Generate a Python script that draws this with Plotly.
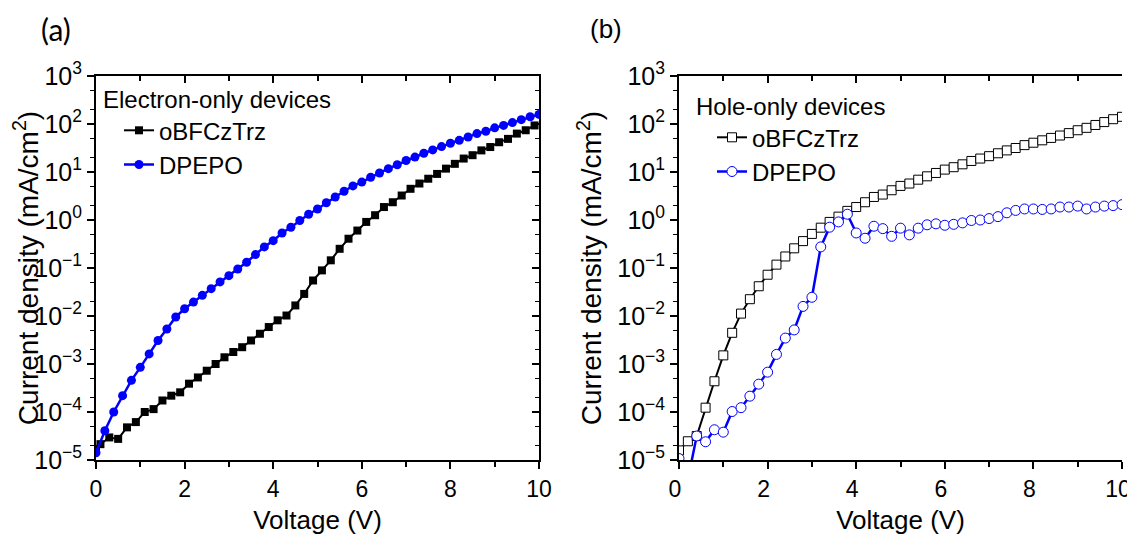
import plotly.graph_objects as go

# ---------------- data (log10 of current density, mA/cm^2) ----------------
a_obf_v = [0.0] + [round(0.1 + 0.2 * i, 1) for i in range(50)]
a_obf_log = [-4.77, -4.67, -4.53, -4.56, -4.32, -4.21, -4.00, -3.94, -3.76, -3.66, -3.59,
             -3.41, -3.28, -3.14, -3.00, -2.86, -2.75, -2.65, -2.51, -2.37, -2.23,
             -2.09, -1.99, -1.78, -1.54, -1.26, -1.05, -0.84, -0.60, -0.39, -0.22,
             -0.04, 0.10, 0.27, 0.37, 0.51, 0.65, 0.76, 0.86, 0.96, 1.07,
             1.17, 1.28, 1.35, 1.45, 1.52, 1.62, 1.69, 1.80, 1.87, 1.97]

a_dpepo_v = [round(0.2 * i, 1) for i in range(51)]
a_dpepo_log = [-4.85, -4.39, -4.00, -3.66, -3.34, -3.07, -2.79, -2.51, -2.27, -2.02, -1.85,
               -1.71, -1.57, -1.43, -1.29, -1.16, -1.02, -0.88, -0.72, -0.56, -0.43,
               -0.27, -0.15, -0.01, 0.12, 0.23, 0.36, 0.48, 0.60, 0.71, 0.79,
               0.89, 0.98, 1.07, 1.15, 1.24, 1.31, 1.39, 1.46, 1.53, 1.60,
               1.66, 1.73, 1.80, 1.85, 1.92, 1.97, 2.03, 2.09, 2.15, 2.20]

b_obf_v = [round(0.2 * i, 1) for i in range(51)]
b_obf_log = [-4.80, -4.61, -4.50, -3.91, -3.36, -2.82, -2.35, -1.95, -1.65, -1.38, -1.14,
             -0.93, -0.76, -0.59, -0.44, -0.29, -0.16, -0.04, 0.07, 0.19, 0.27,
             0.37, 0.48, 0.53, 0.62, 0.71, 0.76, 0.84, 0.91, 0.98, 1.05,
             1.10, 1.16, 1.23, 1.28, 1.33, 1.39, 1.45, 1.50, 1.56, 1.61,
             1.66, 1.71, 1.76, 1.81, 1.87, 1.92, 1.98, 2.04, 2.10, 2.15]

b_dpepo_v = [round(0.2 * i, 1) for i in range(51)]
b_dpepo_log = [-4.97, -5.41, -4.50, -4.62, -4.37, -4.42, -3.99, -3.91, -3.67, -3.42, -3.17,
               -2.80, -2.46, -2.29, -1.80, -1.61, -0.56, -0.15, -0.04, 0.12, -0.27,
               -0.38, -0.13, -0.18, -0.34, -0.17, -0.31, -0.17, -0.10, -0.08, -0.11,
               -0.09, -0.06, -0.01, 0.00, 0.03, 0.07, 0.15, 0.20, 0.23, 0.23,
               0.22, 0.23, 0.27, 0.27, 0.29, 0.23, 0.27, 0.29, 0.30, 0.32]

series_names = ["oBFCzTrz", "DPEPO"]
legend_titles = ["Electron-only devices", "Hole-only devices"]
panel_labels = ["(a)", "(b)"]
x_ticks = [0, 2, 4, 6, 8, 10]
y_exponents = [-5, -4, -3, -2, -1, 0, 1, 2, 3]
y_ticktext = ["10<sup>%s</sup>" % (str(e).replace("-", "\u2212") if e < 0 else str(e)) for e in y_exponents]
x_title = "Voltage (V)"
y_title = "Current density (mA/cm<sup>2</sup>)"

# ---------------- figure ----------------
FONT = "Liberation Sans, Arial, sans-serif"
BLUE = "#0000FF"
fig = go.Figure()

def tolin(vals):
    return [10 ** v for v in vals]

# panel (a)
fig.add_trace(go.Scatter(x=a_obf_v, y=tolin(a_obf_log), name=series_names[0], mode="lines+markers",
                         line=dict(color="black", width=2),
                         marker=dict(symbol="square", size=8, color="black"),
                         xaxis="x", yaxis="y", legend="legend"))
fig.add_trace(go.Scatter(x=a_dpepo_v, y=tolin(a_dpepo_log), name=series_names[1], mode="lines+markers",
                         line=dict(color=BLUE, width=2.5),
                         marker=dict(symbol="circle", size=9, color=BLUE),
                         xaxis="x", yaxis="y", legend="legend"))
# panel (b)
fig.add_trace(go.Scatter(x=b_obf_v, y=tolin(b_obf_log), name=series_names[0], mode="lines+markers",
                         line=dict(color="black", width=2),
                         marker=dict(symbol="square", size=9, color="white", line=dict(color="black", width=1)),
                         xaxis="x2", yaxis="y2", legend="legend2"))
fig.add_trace(go.Scatter(x=b_dpepo_v, y=tolin(b_dpepo_log), name=series_names[1], mode="lines+markers",
                         line=dict(color=BLUE, width=2.5),
                         marker=dict(symbol="circle", size=10, color="white", line=dict(color=BLUE, width=1)),
                         xaxis="x2", yaxis="y2", legend="legend2"))

# dummy traces so mirror axes (top/right, inward ticks) get drawn
for xa, ya in (("x3", "y3"), ("x4", "y4")):
    fig.add_trace(go.Scatter(x=[None], y=[None], xaxis=xa, yaxis=ya, showlegend=False, hoverinfo="skip"))

# page has an 8px body margin: figure drawn at (8, 8)
OFF = 8
W, H = 1135 - OFF, 543 - 2 * OFF

def px(xp):
    return (xp - OFF) / W

def py(yp):
    return 1 - (yp - OFF) / H

dom_a = [px(96), px(539)]
dom_b = [px(679), px(1122)]
dom_y = [py(460), py(76)]

ytickfont = dict(family=FONT, size=25, color="black")
xtickfont = dict(family=FONT, size=23, color="black")
xtitlefont = dict(family=FONT, size=26, color="black")
ytitlefont = dict(family=FONT, size=28, color="black")

def xaxis(dom, anchor, shift=0):
    return dict(domain=dom, anchor=anchor, range=[0, 10], tickvals=x_ticks, automargin=False,
                ticklabeloverflow="allow", ticklabelshift=shift,
                ticks="outside", ticklen=7, tickwidth=2, tickcolor="black",
                showline=True, linecolor="black", linewidth=2, showgrid=False, zeroline=False,
                tickfont=xtickfont, title=dict(text=x_title, font=xtitlefont, standoff=15),
                minor=dict(dtick=1, ticks="outside", ticklen=5, tickwidth=2, tickcolor="black", showgrid=False))

def yaxis(dom, anchor):
    return dict(domain=dom, anchor=anchor, type="log", range=[-5, 3], automargin=False,
                ticklabeloverflow="allow",
                tickvals=[10 ** e for e in y_exponents], ticktext=y_ticktext,
                ticks="outside", ticklen=7, tickwidth=2, tickcolor="black",
                showline=True, linecolor="black", linewidth=2, showgrid=False, zeroline=False,
                tickfont=ytickfont, title=dict(text=y_title, font=ytitlefont, standoff=7),
                minor=dict(ticks="outside", ticklen=4, tickwidth=1, tickcolor="black", showgrid=False))

def mirror_x(dom, ov):
    return dict(domain=dom, overlaying=ov, side="top", range=[0, 10], tickvals=x_ticks, automargin=False,
                ticks="inside", ticklen=7, tickwidth=2, tickcolor="black",
                showline=True, linecolor="black", linewidth=2, showgrid=False, zeroline=False,
                showticklabels=False,
                minor=dict(dtick=1, ticks="inside", ticklen=5, tickwidth=2, tickcolor="black", showgrid=False))

def mirror_y(dom, ov):
    return dict(domain=dom, overlaying=ov, side="right", type="log", range=[-5, 3], automargin=False,
                tickvals=[10 ** e for e in y_exponents],
                ticks="inside", ticklen=7, tickwidth=2, tickcolor="black",
                showline=True, linecolor="black", linewidth=2, showgrid=False, zeroline=False,
                showticklabels=False,
                minor=dict(ticks="inside", ticklen=4, tickwidth=1, tickcolor="black", showgrid=False))

legfont = dict(family=FONT, size=24, color="black")

fig.update_layout(
    width=W, height=H,
    margin=dict(l=0, r=0, t=0, b=0),
    paper_bgcolor="white", plot_bgcolor="white",
    xaxis=xaxis(dom_a, "y"), yaxis=yaxis(dom_y, "x"),
    xaxis2=xaxis(dom_b, "y2", shift=-4), yaxis2=yaxis(dom_y, "x2"),
    xaxis3=mirror_x(dom_a, "x"), yaxis3=mirror_y(dom_y, "y"),
    xaxis4=mirror_x(dom_b, "x2"), yaxis4=mirror_y(dom_y, "y2"),
    legend=dict(x=px(101), y=py(77), xanchor="left", yanchor="top", indentation=18,
                bgcolor="rgba(0,0,0,0)", font=legfont, tracegroupgap=0,
                title=dict(text=legend_titles[0], font=legfont)),
    legend2=dict(x=px(694), y=py(84), xanchor="left", yanchor="top", indentation=18,
                 bgcolor="rgba(0,0,0,0)", font=legfont, tracegroupgap=0,
                 title=dict(text=legend_titles[1], font=legfont)),
    showlegend=True,
)

fig.add_annotation(text=panel_labels[0], x=px(39), y=py(29), xref="paper", yref="paper",
                   xanchor="left", yanchor="middle", showarrow=False,
                   font=dict(family="Lato, sans-serif", size=30, color="black"))
fig.add_annotation(text=panel_labels[1], x=px(588), y=py(29), xref="paper", yref="paper",
                   xanchor="left", yanchor="middle", showarrow=False,
                   font=dict(family=FONT, size=26, color="black"))

fig.write_html("out.html")
